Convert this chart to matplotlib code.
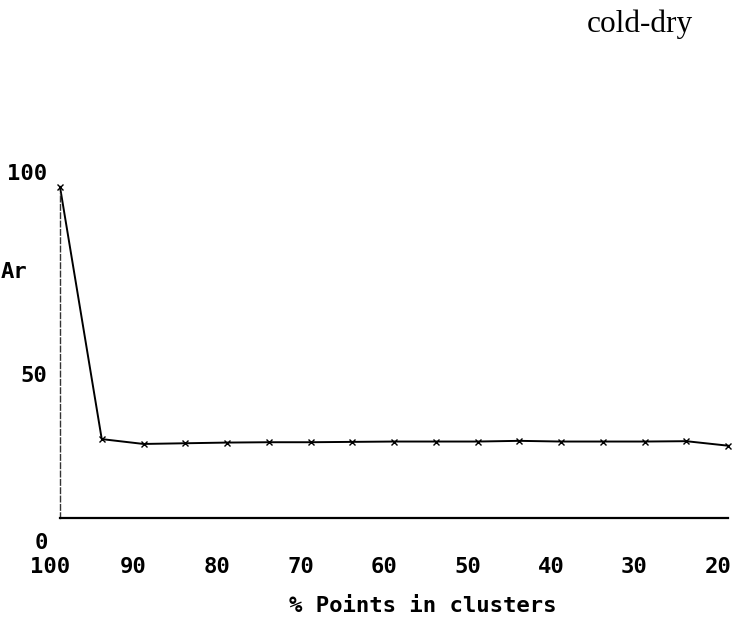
import matplotlib
matplotlib.use("Agg")
import matplotlib.pyplot as plt
import matplotlib.transforms as mtransforms

# % points in clusters vs Ar
pct_points = [100, 95, 90, 85, 80, 75, 70, 65, 60, 55, 50, 45, 40, 35, 30, 25, 20]
ar_values = [95.7, 22.8, 21.4, 21.6, 21.8, 21.9, 21.9, 22.0, 22.1, 22.1,
             22.1, 22.3, 22.1, 22.1, 22.1, 22.2, 20.9]

x_ticks = [100, 90, 80, 70, 60, 50, 40, 30, 20]
y_ticks = [100, 50, 0]

mono = {"family": "DejaVu Sans Mono", "weight": "bold", "size": 16}

fig = plt.figure(figsize=(7.37, 6.18), dpi=100)
ax = fig.add_axes([60 / 737, 100 / 618, 668 / 737, 346 / 618])

ax.plot(pct_points, ar_values, color="black", linewidth=1.4,
        marker="x", markersize=4, markeredgewidth=1, clip_on=False)

ax.set_xlim(100, 20)
ax.set_ylim(0, 100)

# spines: dashed y axis, solid x axis
for side in ["top", "right"]:
    ax.spines[side].set_visible(False)
ax.spines["left"].set_linestyle((0, (4, 2)))
ax.spines["left"].set_linewidth(1.0)
ax.spines["left"].set_color("#333333")
ax.spines["left"].set_bounds(0, 94)
ax.spines["bottom"].set_linewidth(1.6)

ax.set_xticks(x_ticks)
ax.set_xticklabels([str(v) for v in x_ticks], fontdict=mono)
ax.set_yticks(y_ticks)
ax.set_yticklabels([str(v) for v in y_ticks], fontdict=mono)
ax.tick_params(axis="x", length=0, pad=28)
ax.tick_params(axis="y", length=0, pad=9)

# nudge labels to where the printed text sits
px = 1 / 100
for lab in ax.get_xticklabels():
    lab.set_transform(lab.get_transform() +
                      mtransforms.ScaledTranslation(-10 * px, 0, fig.dpi_scale_trans))
y_shift = {"100": 0, "50": -29, "0": -23}
for lab in ax.get_yticklabels():
    dy = y_shift.get(lab.get_text(), 0)
    lab.set_transform(lab.get_transform() +
                      mtransforms.ScaledTranslation(0, dy * px, fig.dpi_scale_trans))

ax.set_xlabel("% Points in clusters", fontdict=mono)
ax.xaxis.set_label_coords((423 - 60) / 668, (518 - 596) / 346)

fig.text(1 / 737, (618 - 272) / 618, "Ar", ha="left", va="center", fontdict=mono)
fig.text(640 / 737, (618 - 32) / 618, "cold-dry", ha="center", va="baseline",
         family="Liberation Serif", fontsize=22.5)

fig.savefig("out.png", dpi=100)
